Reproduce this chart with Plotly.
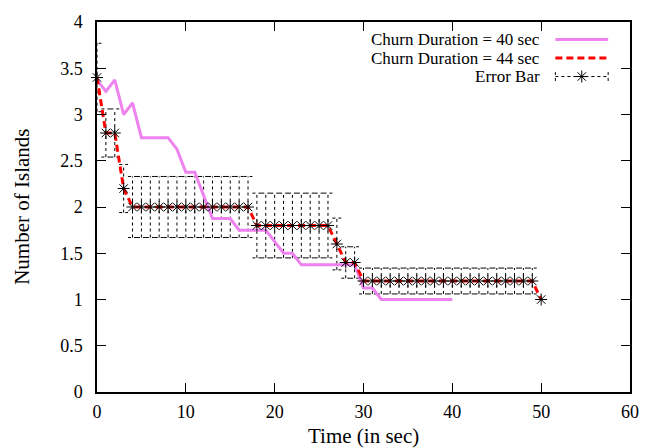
import plotly.graph_objects as go

# ---- data ----
t40 = list(range(0, 41))
y40 = [3.375, 3.25, 3.375, 3.0, 3.125, 2.75, 2.75, 2.75, 2.75, 2.625,
       2.375, 2.375, 2.125, 1.875, 1.875, 1.875, 1.75, 1.75, 1.75, 1.75,
       1.625, 1.5, 1.5, 1.375, 1.375, 1.375, 1.375, 1.375, 1.375, 1.375,
       1.125, 1.125, 1.0, 1.0, 1.0, 1.0, 1.0, 1.0, 1.0, 1.0, 1.0]

t44 = list(range(0, 51))
y44 = [3.4, 2.8, 2.8, 2.2,
       2.0, 2.0, 2.0, 2.0, 2.0, 2.0, 2.0, 2.0, 2.0, 2.0, 2.0, 2.0, 2.0, 2.0,
       1.8, 1.8, 1.8, 1.8, 1.8, 1.8, 1.8, 1.8, 1.8,
       1.6, 1.4, 1.4,
       1.2, 1.2, 1.2, 1.2, 1.2, 1.2, 1.2, 1.2, 1.2, 1.2,
       1.2, 1.2, 1.2, 1.2, 1.2, 1.2, 1.2, 1.2, 1.2, 1.2,
       1.0]
err44 = [0.37, 0.26, 0.26, 0.26,
         0.33, 0.33, 0.33, 0.33, 0.33, 0.33, 0.33, 0.33, 0.33, 0.33, 0.33, 0.33, 0.33, 0.33,
         0.35, 0.35, 0.35, 0.35, 0.35, 0.35, 0.35, 0.35, 0.35,
         0.28, 0.17, 0.17,
         0.14, 0.14, 0.14, 0.14, 0.14, 0.14, 0.14, 0.14, 0.14, 0.14,
         0.14, 0.14, 0.14, 0.14, 0.14, 0.14, 0.14, 0.14, 0.14, 0.14,
         0.0]

x_ticks = [0, 10, 20, 30, 40, 50, 60]
y_ticks = [0, 0.5, 1, 1.5, 2, 2.5, 3, 3.5, 4]
y_tick_text = ["0", "0.5", "1", "1.5", "2", "2.5", "3", "3.5", "4"]

legend_labels = ["Churn Duration = 40 sec", "Churn Duration = 44 sec", "Error Bar"]
x_title = "Time (in sec)"
y_title = "Number of Islands"

# ---- style ----
FONT = "Liberation Serif"
FS = 18
FS_LEG = 17
FS_TITLE = 21
CAP = 0.5
VIOLET = "#ee82ee"

# error bar segments built from data
ex, ey = [], []
for x, y, e in zip(t44, y44, err44):
    if e <= 0:
        continue
    ex += [x, x, None, x - CAP, x + CAP, None, x - CAP, x + CAP, None]
    ey += [y - e, y + e, None, y + e, y + e, None, y - e, y - e, None]

fig = go.Figure()
fig.add_trace(go.Scatter(x=ex, y=ey, mode="lines",
                         line=dict(color="black", width=1, dash="3px,3px"),
                         hoverinfo="skip", showlegend=False))
fig.add_trace(go.Scatter(x=t40, y=y40, mode="lines",
                         line=dict(color=VIOLET, width=3), showlegend=False))
fig.add_trace(go.Scatter(x=t44, y=y44, mode="lines",
                         line=dict(color="red", width=3, dash="7px,4px"), showlegend=False))
fig.add_trace(go.Scatter(x=t44, y=y44, mode="markers",
                         marker=dict(symbol="asterisk-open", size=10, color="black",
                                     line=dict(color="black", width=1)),
                         cliponaxis=False, showlegend=False))

# ---- custom legend (paper-like overlay axes) ----
row_y = [0.9526, 0.9026, 0.8526]
sx0, sx1 = 0.860, 0.959
fig.add_trace(go.Scatter(x=[sx0, sx1], y=[row_y[0]] * 2, mode="lines", xaxis="x2", yaxis="y2",
                         line=dict(color=VIOLET, width=3), showlegend=False, hoverinfo="skip"))
fig.add_trace(go.Scatter(x=[sx0, sx1], y=[row_y[1]] * 2, mode="lines", xaxis="x2", yaxis="y2",
                         line=dict(color="red", width=3, dash="7px,4px"), showlegend=False, hoverinfo="skip"))
fig.add_trace(go.Scatter(x=[sx0, sx1, None, sx0, sx0, None, sx1, sx1],
                         y=[row_y[2], row_y[2], None, row_y[2] - 0.012, row_y[2] + 0.012, None,
                            row_y[2] - 0.012, row_y[2] + 0.012],
                         mode="lines", xaxis="x2", yaxis="y2",
                         line=dict(color="black", width=1, dash="3px,3px"), showlegend=False, hoverinfo="skip"))
fig.add_trace(go.Scatter(x=[(sx0 + sx1) / 2], y=[row_y[2]], mode="markers", xaxis="x2", yaxis="y2",
                         marker=dict(symbol="asterisk-open", size=10, color="black",
                                     line=dict(color="black", width=1)),
                         showlegend=False, hoverinfo="skip"))

annotations = []
for lab, ry in zip(legend_labels, row_y):
    annotations.append(dict(x=0.8355, y=ry, xref="paper", yref="paper", text=lab,
                            showarrow=False, xanchor="right", yanchor="middle",
                            font=dict(family=FONT, size=FS_LEG, color="black")))
annotations.append(dict(x=0.5, y=-0.1195, xref="paper", yref="paper", text=x_title,
                        showarrow=False, xanchor="center", yanchor="middle",
                        font=dict(family=FONT, size=FS_TITLE, color="black")))
annotations.append(dict(x=-0.141, y=0.5, xref="paper", yref="paper", text=y_title,
                        showarrow=False, xanchor="center", yanchor="middle", textangle=-90,
                        font=dict(family=FONT, size=FS_TITLE, color="black")))

axis_common = dict(showline=True, linecolor="black", linewidth=1.5, mirror="ticks",
                   ticks="inside", ticklen=9, tickwidth=1, tickcolor="black",
                   showgrid=False, zeroline=False,
                   tickfont=dict(family=FONT, size=FS, color="black"))

fig.update_layout(
    width=651, height=448,
    margin=dict(l=97, r=19, t=12, b=56),
    plot_bgcolor="white", paper_bgcolor="white",
    font=dict(family=FONT, size=FS, color="black"),
    xaxis=dict(range=[0, 60], tickvals=x_ticks, ticklabelstandoff=3, **axis_common),
    yaxis=dict(range=[0, 4], tickvals=y_ticks, ticktext=y_tick_text, ticklabelstandoff=9, **axis_common),
    xaxis2=dict(overlaying="x", range=[0, 1], visible=False),
    yaxis2=dict(overlaying="y", range=[0, 1], visible=False),
    annotations=annotations,
    showlegend=False,
)

fig.write_html("out.html")
